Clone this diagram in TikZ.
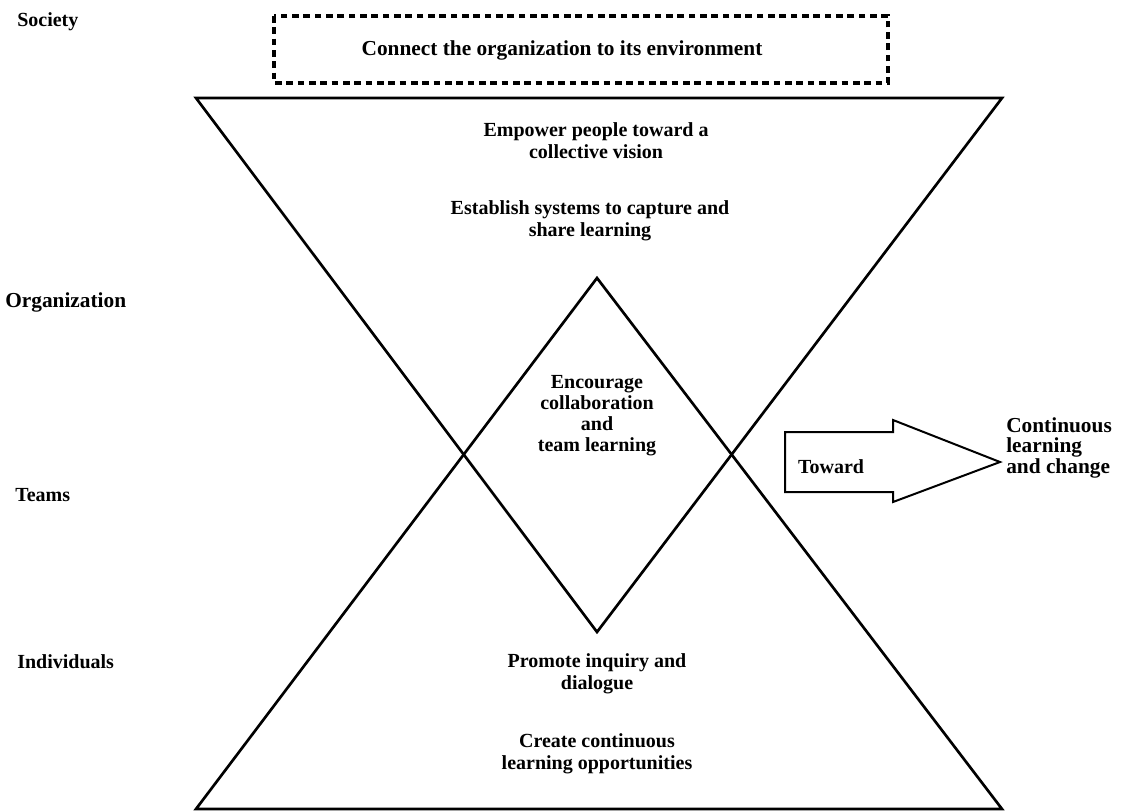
\documentclass[tikz,border=0pt]{standalone}
\usepackage{fontspec}
\setmainfont{Liberation Serif}
\usetikzlibrary{positioning}

\begin{document}
\begin{tikzpicture}[x=0.75pt,y=-0.75pt,
    txt/.style={font=\bfseries\fontsize{15}{16.5}\selectfont, align=center, inner sep=0pt},
    level/.style={txt, anchor=west},
    tri/.style={draw, line width=2pt}]
    \useasboundingbox (0,0) rectangle (1126,811);

    % Levels
    \node[level] (society) at (17,22) {Society};
    \node[level, font=\bfseries\fontsize{16}{16.5}\selectfont] (organization) at (5,302) {Organization};
    \node[level] (teams) at (15,495) {Teams};
    \node[level] (individuals) at (17,662) {Individuals};

    % Environment box
    \draw[line width=2.4pt, dash pattern=on 5pt off 3.5pt] (274,16) rectangle (888,83);
    \node[txt, font=\bfseries\fontsize{16}{16.5}\selectfont] (connect) at (562,50)
        {Connect the organization to its environment};

    % Two triangles
    \draw[tri] (196,98) -- (1002,98) -- (597,632) -- cycle;
    \draw[tri] (196,809) -- (1002,809) -- (597,278) -- cycle;

    % Organization
    \node[txt] (empower) at (596,141) {Empower people toward a\\collective vision};
    \node[txt] (establish) at (590,221) {Establish systems to capture and\\share learning};

    % Teams
    \node[txt, font=\bfseries\fontsize{15}{15.75}\selectfont] (encourage) at (597,416)
        {Encourage\\collaboration\\and\\team learning};

    % Individuals
    \node[txt] (promote) at (597,674) {Promote inquiry and\\dialogue};
    \node[txt] (create) at (597,754) {Create continuous\\learning opportunities};

    % Arrow
    \draw[line width=1.5pt] (785,432) -- (893,432) -- (893,420) -- (1000,462)
        -- (893,502) -- (893,492) -- (785,492) -- cycle;
    \node[txt] (toward) at (831,467) {Toward};
    \node[txt, align=left, anchor=west, font=\bfseries\fontsize{16}{14.5}\selectfont]
        (continuous) at (1006,448) {Continuous\\learning\\and change};
\end{tikzpicture}
\end{document}
